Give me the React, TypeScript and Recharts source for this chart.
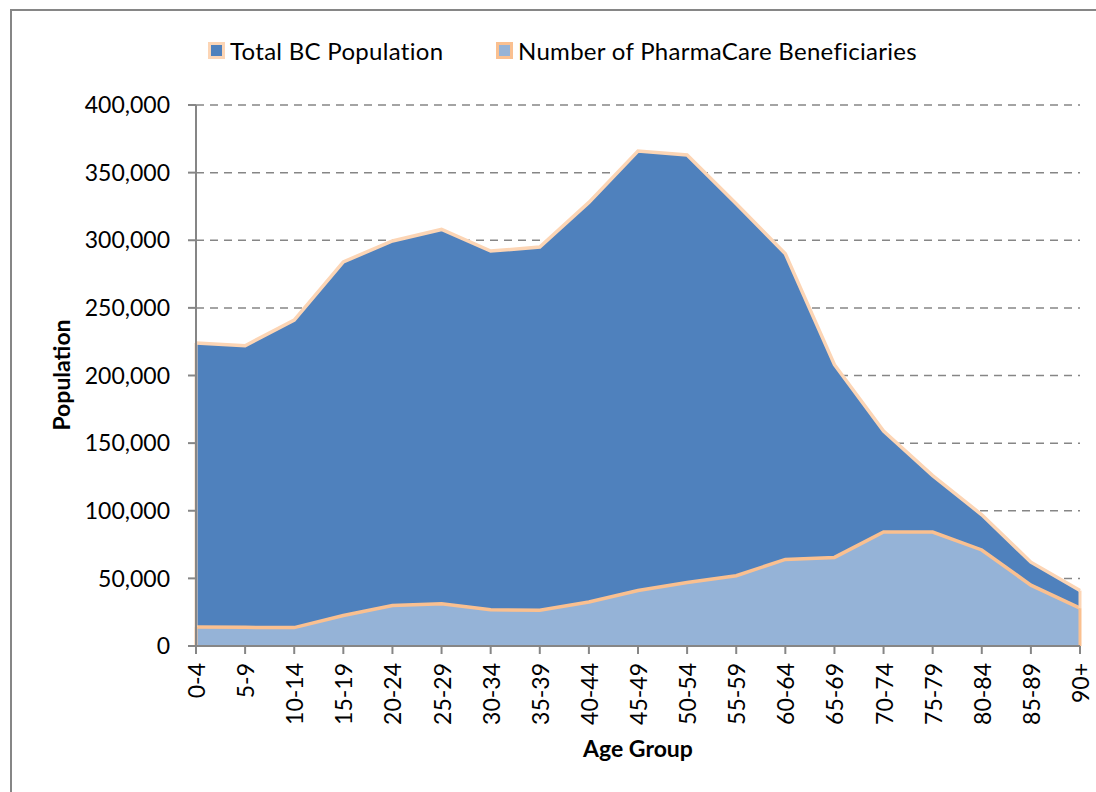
import {AreaChart, Area, CartesianGrid, XAxis, YAxis, ReferenceLine} from "recharts";

const ageGroups = [
  "0-4", "5-9", "10-14", "15-19", "20-24", "25-29", "30-34", "35-39", "40-44", "45-49",
  "50-54", "55-59", "60-64", "65-69", "70-74", "75-79", "80-84", "85-89", "90+",
];

const totalPopulation = [
  224000, 222000, 241000, 284000, 299500, 308000, 292000, 295000, 328000, 366000,
  363000, 327000, 290000, 208000, 159000, 126000, 97000, 62000, 41000,
];

const beneficiaries = [
  14000, 13800, 13600, 22500, 30000, 31300, 26800, 26400, 32500, 41000,
  47000, 52000, 64000, 65500, 84300, 84300, 71000, 45000, 28000,
];

const yTicks = [0, 50000, 100000, 150000, 200000, 250000, 300000, 350000, 400000];

const seriesNames = ["Total BC Population", "Number of PharmaCare Beneficiaries"];

const data = ageGroups.map((age, i) => ({
  age,
  total: totalPopulation[i],
  bene: beneficiaries[i],
}));

const FONT = "Lato, 'Liberation Sans', sans-serif";
const AXIS_GREY = "#868686";
const DARK_BLUE = "#4F81BD";
const LIGHT_BLUE = "#95B3D7";
const PEACH = "#FCD5B5";
const ORANGE = "#FAC090";

const first = ageGroups[0];
const last = ageGroups[ageGroups.length - 1];

function AgeTick({x, y, payload}: any) {
  return (
    <text
      x={x}
      y={y}
      transform={`rotate(-90 ${x} ${y})`}
      textAnchor="end"
      dominantBaseline="central"
      fontSize={23}
      fontFamily={FONT}
      fill="#000"
    >
      {payload.value}
    </text>
  );
}

export default function App() {
  return (
    <div style={{position: "fixed", left: 0, top: 0, width: 1096, height: 792, overflow: "hidden", background: "#fff"}}>
      <div
        style={{
          position: "absolute", left: 10, top: 9, width: 1200, height: 900,
          borderTop: `2px solid ${AXIS_GREY}`, borderLeft: `2px solid ${AXIS_GREY}`,
        }}
      />
      {/* legend */}
      {seriesNames.map((name, i) => (
        <div
          key={name}
          style={{
            position: "absolute", left: [208, 496][i], top: 36, height: 28,
            display: "flex", alignItems: "center", fontFamily: FONT, fontSize: 24, color: "#000",
            whiteSpace: "nowrap", letterSpacing: 0.3,
          }}
        >
          <span
            style={{
              display: "inline-block", width: 11, height: 11, marginRight: 5,
              border: `3px solid ${[PEACH, ORANGE][i]}`, background: [DARK_BLUE, LIGHT_BLUE][i],
            }}
          />
          {name}
        </div>
      ))}
      <div style={{position: "absolute", left: 0, top: 0}}>
        <AreaChart width={1096} height={792} data={data} margin={{top: 105, right: 16, left: 0, bottom: 0}}>
          <CartesianGrid vertical={false} stroke={AXIS_GREY} strokeWidth={1.5} strokeDasharray="8 6"/>
          <XAxis
            dataKey="age"
            height={146}
            interval={0}
            stroke={AXIS_GREY}
            strokeWidth={2}
            tickSize={8}
            tickMargin={9}
            tick={<AgeTick/>}
            label={{
              position: "bottom",
              content: () => (
                <text x={638} y={748} textAnchor="middle" dominantBaseline="central"
                      fontSize={23} fontWeight="bold" fontFamily={FONT} fill="#000">Age Group</text>
              ),
            }}
          />
          <YAxis
            width={196}
            domain={[0, 400000]}
            ticks={yTicks}
            interval={0}
            stroke={AXIS_GREY}
            strokeWidth={2}
            tickSize={8}
            tickMargin={18}
            tick={{fill: "#000", fontSize: 23, fontFamily: FONT}}
            tickFormatter={(v: number) => v.toLocaleString("en-US")}
            label={{
              position: "left",
              content: () => (
                <text x={61} y={375} transform="rotate(-90 61 375)" textAnchor="middle" dominantBaseline="central"
                      fontSize={23} fontWeight="bold" fontFamily={FONT} fill="#000">Population</text>
              ),
            }}
          />
          <Area
            type="linear"
            dataKey="total"
            name={seriesNames[0]}
            fill={DARK_BLUE}
            fillOpacity={1}
            stroke={PEACH}
            strokeWidth={3.5}
            dot={false}
            activeDot={false}
            isAnimationActive={false}
          />
          <Area
            type="linear"
            dataKey="bene"
            name={seriesNames[1]}
            fill={LIGHT_BLUE}
            fillOpacity={1}
            stroke={ORANGE}
            strokeWidth={3.5}
            dot={false}
            activeDot={false}
            isAnimationActive={false}
          />
          <ReferenceLine segment={[{x: first, y: beneficiaries[0]}, {x: first, y: totalPopulation[0]}]} stroke={PEACH} strokeWidth={3}/>
          <ReferenceLine segment={[{x: last, y: beneficiaries[18]}, {x: last, y: totalPopulation[18]}]} stroke={PEACH} strokeWidth={3}/>
          <ReferenceLine segment={[{x: first, y: 0}, {x: first, y: beneficiaries[0]}]} stroke={ORANGE} strokeWidth={3}/>
          <ReferenceLine segment={[{x: last, y: 0}, {x: last, y: beneficiaries[18]}]} stroke={ORANGE} strokeWidth={3}/>
          <ReferenceLine segment={[{x: first, y: 0}, {x: last, y: 0}]} stroke={ORANGE} strokeWidth={2} strokeOpacity={0.9}/>
        </AreaChart>
      </div>
    </div>
  );
}
